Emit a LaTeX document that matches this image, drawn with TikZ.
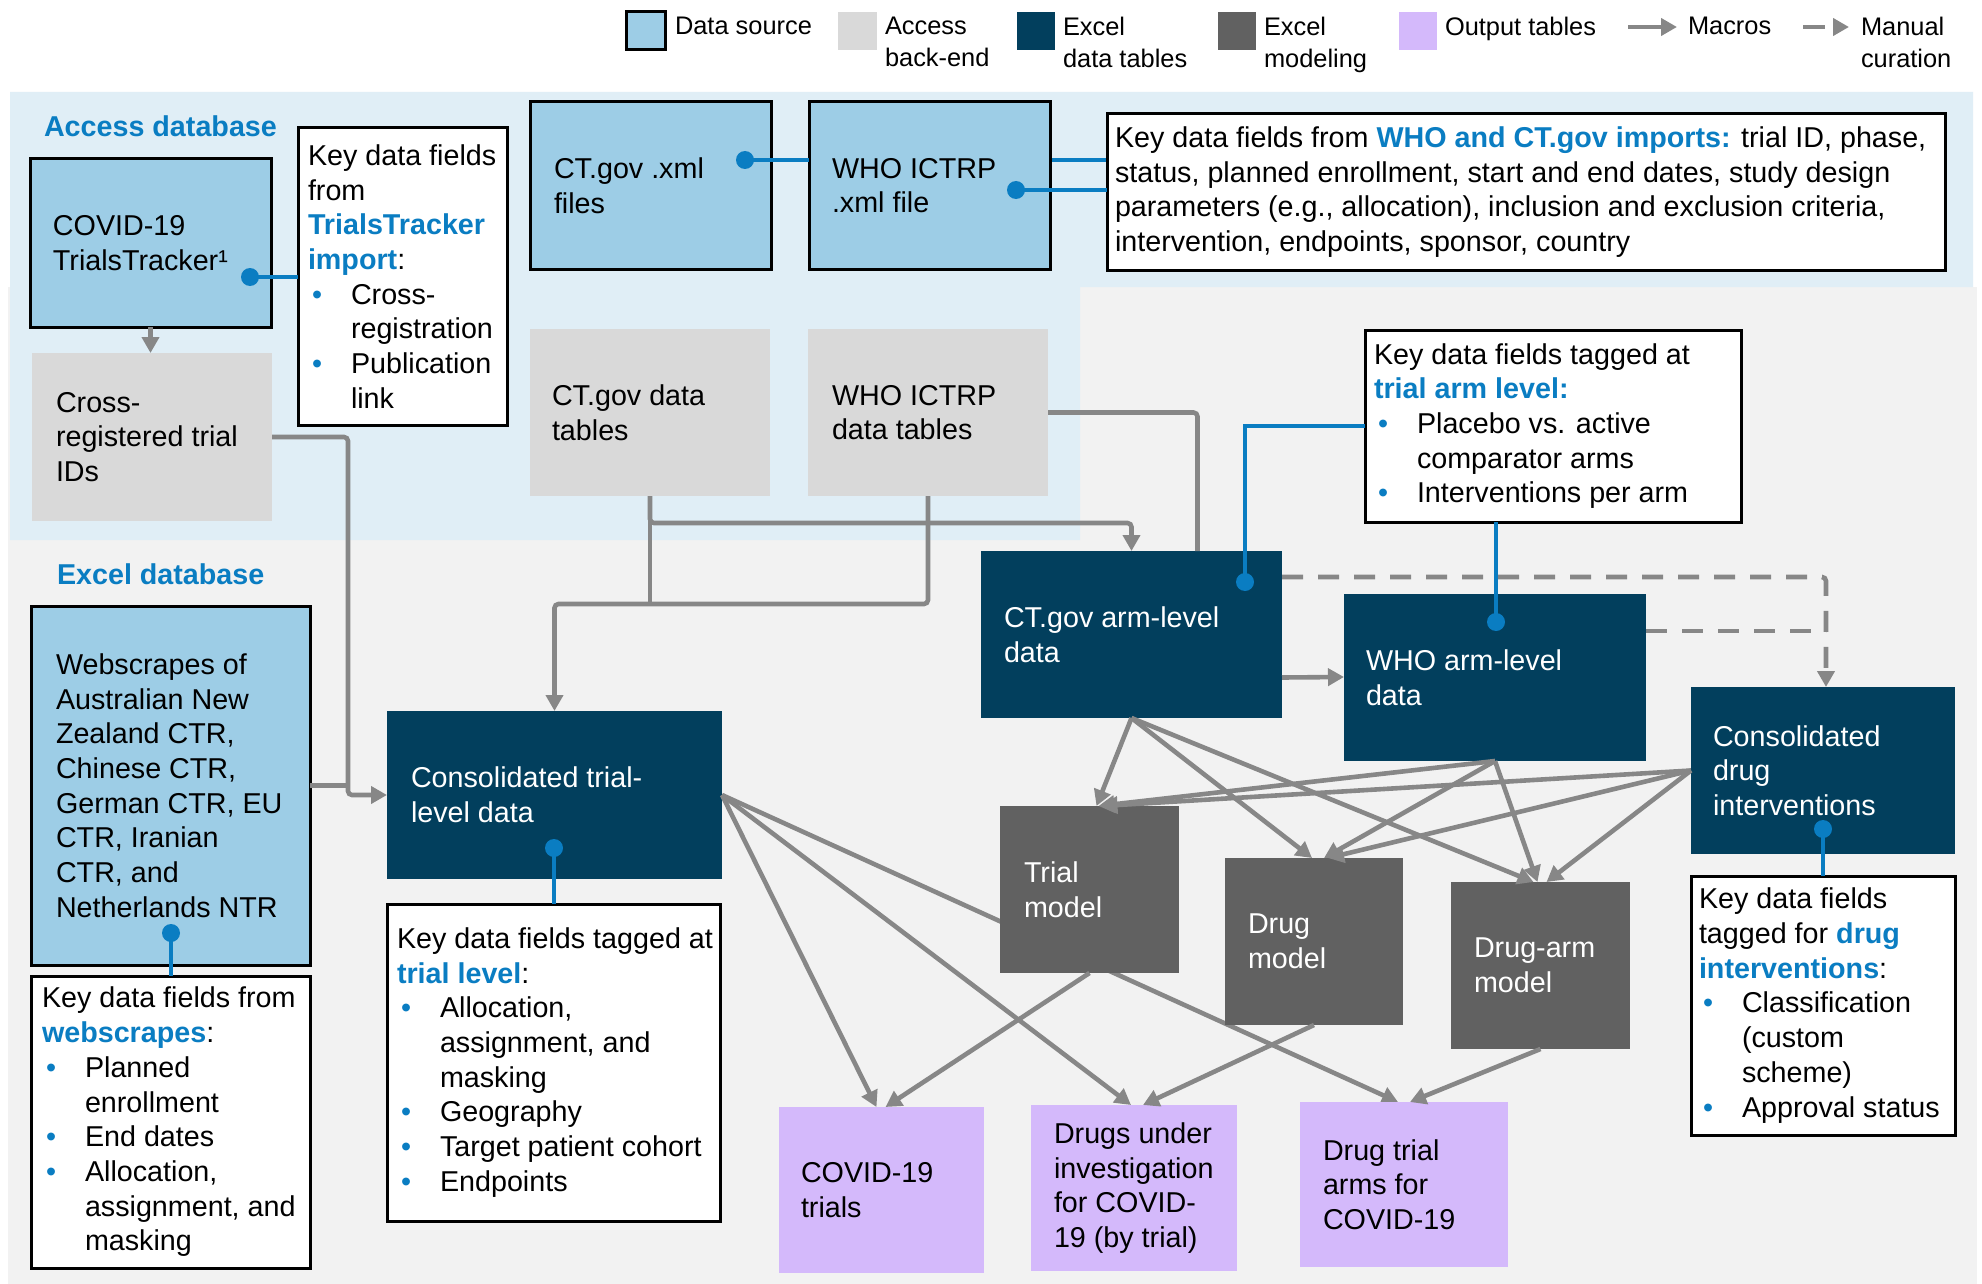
\documentclass[tikz,border=0pt]{standalone}
\usepackage{fontspec}
\setmainfont{Liberation Sans}
\usetikzlibrary{arrows.meta,calc}
\pgfdeclarelayer{bg}\pgfdeclarelayer{back}
\pgfsetlayers{bg,back,main}
\definecolor{bgblue}{HTML}{E0EEF6}
\definecolor{bggray}{HTML}{F2F2F2}
\definecolor{srcblue}{HTML}{9DCDE6}
\definecolor{accgray}{HTML}{D9D9D9}
\definecolor{dblue}{HTML}{023F5D}
\definecolor{mgray}{HTML}{616161}
\definecolor{lav}{HTML}{D4B9FB}
\definecolor{hblue}{HTML}{0A7DC2}
\definecolor{cgray}{HTML}{878787}
\newcommand{\hl}[1]{\textcolor{hblue}{\bfseries #1}}
\newcommand{\bitem}[1]{\makebox[21.5pt][l]{\hspace*{2pt}\textcolor{hblue}{•}}#1}
\newcommand{\bcont}{\hspace*{21.5pt}}
\newcommand{\bx}[6]{\node[#1, anchor=north west, minimum width={(#4-#2)*0.5pt}, minimum height={(#5-#3)*0.5pt}] (#6) at (#2,#3) {};}
\newcommand{\bt}[4]{\node[#1] (#2t) at ($(#2.west)+(#3,0)$) {#4};}
\tikzset{
 every node/.style={font=\fontsize{14.35}{17.35}\selectfont, outer sep=0pt},
 boxr/.style={rectangle, inner sep=0pt},
 src/.style={boxr, fill=srcblue, draw=black, line width=1.5pt},
 accb/.style={boxr, fill=accgray},
 xl/.style={boxr, fill=dblue},
 mdl/.style={boxr, fill=mgray},
 outb/.style={boxr, fill=lav},
 keyb/.style={boxr, fill=white, draw=black, line width=1.5pt},
 txt/.style={anchor=west, align=left, inner sep=0pt},
 wtxt/.style={txt, text=white},
 lgt/.style={anchor=north west, align=left, inner sep=0pt, font=\fontsize{12.7}{15.8}\selectfont},
 gline/.style={draw=cgray, line width=2.3pt},
 macro/.style={gline, -{Triangle[length=8pt,width=8.5pt]}},
 manual/.style={macro, dash pattern=on 10.5pt off 7.5pt},
 link/.style={draw=hblue, line width=2.2pt},
 dotc/.style={circle, fill=hblue, inner sep=0pt, minimum size=9pt},
}
\begin{document}
\begin{tikzpicture}[x=0.5pt,y=-0.5pt]
\useasboundingbox (0,0) rectangle (1982,1284);
\begin{pgfonlayer}{bg}
\fill[white] (0,0) rectangle (1982,1284);
\fill[bggray] (8,287) rectangle (1977,1284);
\fill[bgblue] (10,92) -- (1973,92) -- (1973,287) -- (1080,287) -- (1080,540) -- (10,540) -- cycle;
\end{pgfonlayer}

% legend
\bx{src}{626}{12}{665}{50}{lg1}
\bx{accb}{838}{12}{877}{50}{lg2}
\bx{xl}{1017}{12}{1055}{50}{lg3}
\bx{mdl}{1218}{12}{1256}{50}{lg4}
\bx{outb}{1399}{12}{1437}{50}{lg5}
\node[lgt] (lg1t) at (675,17) {Data source};
\node[lgt] (lg2t) at (885,17) {Access\\back-end};
\node[lgt] (lg3t) at (1063,17) {Excel\\data tables};
\node[lgt] (lg4t) at (1264,17) {Excel\\modeling};
\node[lgt] (lg5t) at (1445,17) {Output tables};
\coordinate (ma1) at (1628,27); \coordinate (ma2) at (1677,27);
\draw[macro] (ma1) -- (ma2);
\node[lgt] (lg6t) at (1688,17) {Macros};
\coordinate (mc1) at (1803,27); \coordinate (mc2) at (1849,27);
\draw[macro, dash pattern=on 11pt off 20pt] (mc1) -- (mc2);
\node[lgt] (lg7t) at (1861,17) {Manual\\curation};

% titles
\node[txt, font=\fontsize{14.35}{17.35}\selectfont\bfseries, text=hblue] (ttl1) at (44,126) {Access database};
\node[txt, font=\fontsize{14.35}{17.35}\selectfont\bfseries, text=hblue] (ttl2) at (57,574) {Excel database};

% boxes
\bx{src}{30}{159}{271}{327}{tt}
\bt{txt}{tt}{23}{COVID-19\\TrialsTracker¹}
\bx{accb}{32}{353}{272}{521}{xr}
\bt{txt}{xr}{24}{Cross-\\registered trial\\IDs}
\bx{keyb}{298}{128}{507}{425}{k1}
\bt{txt}{k1}{10}{Key data fields\\from\\\hl{TrialsTracker}\\\hl{import}:\\\bitem{Cross-}\\\bcont registration\\\bitem{Publication}\\\bcont link}
\bx{src}{530}{102}{771}{269}{ctx}
\bt{txt}{ctx}{24}{CT.gov .xml\\files}
\bx{src}{809}{102}{1050}{269}{whx}
\bt{txt}{whx}{23}{WHO ICTRP\\.xml file}
\bx{keyb}{1107}{114}{1945}{270}{k2}
\bt{txt}{k2}{8}{Key data fields from \hl{WHO and CT.gov imports:} trial ID, phase,\\status, planned enrollment, start and end dates, study design\\parameters (e.g., allocation), inclusion and exclusion criteria,\\intervention, endpoints, sponsor, country}
\bx{accb}{530}{329}{770}{496}{ctt}
\bt{txt}{ctt}{22}{CT.gov data\\tables}
\bx{accb}{808}{329}{1048}{496}{wht}
\bt{txt}{wht}{24}{WHO ICTRP\\data tables}
\bx{xl}{981}{551}{1282}{718}{cta}
\bt{wtxt}{cta}{23}{CT.gov arm-level\\data}
\bx{xl}{1344}{594}{1646}{761}{wha}
\bt{wtxt}{wha}{22}{WHO arm-level\\data}
\bx{xl}{1691}{687}{1955}{854}{cdi}
\bt{wtxt}{cdi}{22}{Consolidated\\drug\\interventions}
\bx{keyb}{1365}{330}{1741}{522}{k3}
\bt{txt}{k3}{9}{Key data fields tagged at\\\hl{trial arm level:}\\\bitem{Placebo vs. active}\\\bcont comparator arms\\\bitem{Interventions per arm}}
\bx{xl}{387}{711}{722}{879}{ctl}
\bt{wtxt}{ctl}{24}{Consolidated trial-\\level data}
\bx{keyb}{387}{904}{720}{1221}{k4}
\bt{txt}{k4}{10}{Key data fields tagged at\\\hl{trial level}:\\\bitem{Allocation,}\\\bcont assignment, and\\\bcont masking\\\bitem{Geography}\\\bitem{Target patient cohort}\\\bitem{Endpoints}}
\bx{src}{31}{606}{310}{965}{ws}
\bt{txt}{ws}{25}{Webscrapes of\\Australian New\\Zealand CTR,\\Chinese CTR,\\German CTR, EU\\CTR, Iranian\\CTR, and\\Netherlands NTR}
\bx{keyb}{31}{976}{310}{1268}{k5}
\bt{txt}{k5}{11}{Key data fields from\\\hl{webscrapes}:\\\bitem{Planned}\\\bcont enrollment\\\bitem{End dates}\\\bitem{Allocation,}\\\bcont assignment, and\\\bcont masking}
\bx{mdl}{1000}{806}{1179}{973}{tm}
\bt{wtxt}{tm}{24}{Trial\\model}
\bx{mdl}{1225}{858}{1403}{1025}{dm}
\bt{wtxt}{dm}{23}{Drug\\model}
\bx{mdl}{1451}{882}{1630}{1049}{dam}
\bt{wtxt}{dam}{23}{Drug-arm\\model}
\bx{keyb}{1691}{876}{1955}{1135}{k6}
\bt{txt}{k6}{8}{Key data fields\\tagged for \hl{drug}\\\hl{interventions}:\\\bitem{Classification}\\\bcont (custom\\\bcont scheme)\\\bitem{Approval status}}
\bx{outb}{779}{1107}{984}{1273}{o1}
\bt{txt}{o1}{22}{COVID-19\\trials}
\bx{outb}{1031}{1105}{1237}{1271}{o2}
\bt{txt}{o2}{23}{Drugs under\\investigation\\for COVID-\\19 (by trial)}
\bx{outb}{1300}{1102}{1508}{1267}{o3}
\bt{txt}{o3}{23}{Drug trial\\arms for\\COVID-19}

% gray connectors
\draw[macro] (tt.south) -- (tt.south |- xr.north);
\coordinate (j1) at ($(ctl.west)+(-39,0)$);
\draw[macro, rounded corners=2pt] (xr.east) -| (j1) -- (ctl.west);
\draw[gline] (ws.east) -- (ws.east -| j1);
\draw[macro, rounded corners=2pt] (ctt.south) |- ($(cta.north)+(0,-28)$) -- (cta.north);
\draw[gline] (ctt.south) -- ++(0,108);
\draw[macro, rounded corners=2pt] (wht.south) -- ++(0,108) -| (ctl.north);
\draw[gline, rounded corners=2pt] (wht.east) -| ($(cta.north)+(66,0)$);
\draw[macro] ($(cta.east)+(0,43)$) -- ($(wha.west)+(0,-0.5)$ |- {$(cta.east)+(0,43)$});
\draw[manual, rounded corners=2pt] ($(cta.north east)+(0,26)$) -| ($(cdi.north)+(3,0)$);
\draw[manual, -] ($(wha.north east)+(0,37)$) -- ($(cdi.north)+(3,-56)$);

\draw[macro] (cta.south) -- ($(tm.north)+(7,0)$);
\draw[macro] (cta.south) -- ($(dm.north)+(-2,0)$);
\draw[macro] (cta.south) -- ($(dam.north)+(-7,0)$);
\draw[macro] (wha.south) -- ($(tm.north)+(9,0)$);
\draw[macro] (wha.south) -- ($(dm.north)+(10,0)$);
\draw[macro] (wha.south) -- ($(dam.north)+(-3,0)$);
\draw[macro] (cdi.west) -- ($(tm.north)+(12,0)$);
\draw[macro] (cdi.west) -- ($(dm.north)+(14,0)$);
\draw[macro] (cdi.west) -- ($(dam.north)+(6,0)$);
\draw[macro] (ctl.east) -- ($(o1.north)+(-5,0)$);
\draw[macro] (ctl.east) -- ($(o2.north)+(-3,0)$);
\begin{pgfonlayer}{back}
\draw[macro] (ctl.east) -- ($(o3.north)+(-6,0)$);
\end{pgfonlayer}
\draw[macro] (tm.south) -- ($(o1.north)+(4,0)$);
\draw[macro] (dm.south) -- ($(o2.north)+(9,0)$);
\draw[macro] (dam.south) -- ($(o3.north)+(6,0)$);

% blue links
\node[dotc] (ttd) at (250,277) {};
\draw[link] (ttd.center) -- (ttd.center -| k1.west);
\node[dotc] (ctxd) at (745,160) {};
\begin{pgfonlayer}{back}
\draw[link] (ctxd.center) -- (ctxd.center -| k2.west);
\end{pgfonlayer}
\draw[link] (ctxd.center) -- (ctxd.center -| whx.west);
\node[dotc] (whxd) at (1016,190) {};
\draw[link] (whxd.center) -- (whxd.center -| k2.west);
\node[dotc] (ctad) at (1245,582) {};
\draw[link] (ctad.center) |- (k3.west);
\node[dotc] (whad) at (1496,622) {};
\draw[link] (whad.center) -- (whad.center |- k3.south);
\node[dotc] (ctld) at (554,848) {};
\draw[link] (ctld.center) -- (ctld.center |- k4.north);
\node[dotc] (wsd) at (171,933) {};
\draw[link] (wsd.center) -- (wsd.center |- k5.north);
\node[dotc] (cdid) at (1823,829) {};
\draw[link] (cdid.center) -- (cdid.center |- k6.north);
\end{tikzpicture}
\end{document}
